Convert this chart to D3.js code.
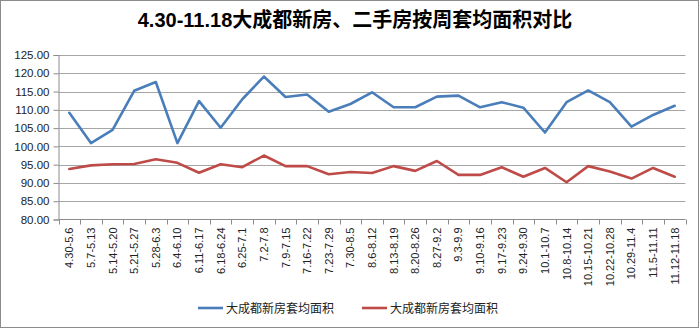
<!DOCTYPE html>
<html>
<head>
<meta charset="utf-8">
<script src="https://cdn.jsdelivr.net/npm/d3@7"></script>
<style>
  html, body { margin: 0; padding: 0; background: #fff; }
  svg { display: block; font-family: "Liberation Sans", Arial, "Noto Sans CJK SC", sans-serif; }
</style>
</head>
<body>
<svg id="chart" width="700" height="329"></svg>
<script>
// Weekly periods
const weeks = [
  "4.30-5.6", "5.7-5.13", "5.14-5.20", "5.21-5.27", "5.28-6.3", "6.4-6.10",
  "6.11-6.17", "6.18-6.24", "6.25-7.1", "7.2-7.8", "7.9-7.15", "7.16-7.22",
  "7.23-7.29", "7.30-8.5", "8.6-8.12", "8.13-8.19", "8.20-8.26", "8.27-9.2",
  "9.3-9.9", "9.10-9.16", "9.17-9.23", "9.24-9.30", "10.1-10.7", "10.8-10.14",
  "10.15-10.21", "10.22-10.28", "10.29-11.4", "11.5-11.11", "11.12-11.18"
];

// Average area per unit, new homes
const newHomes = [
  109.2, 100.9, 104.5, 115.2, 117.6, 100.9, 112.4, 105.1, 112.9, 119.1,
  113.5, 114.2, 109.5, 111.6, 114.8, 110.7, 110.7, 113.6, 113.9, 110.7,
  112.1, 110.6, 103.8, 112.1, 115.3, 112.1, 105.4, 108.6, 111.1
];

// Average area per unit, second-hand homes
const resaleHomes = [
  93.8, 94.8, 95.1, 95.2, 96.5, 95.5, 92.8, 95.1, 94.3, 97.5,
  94.6, 94.6, 92.4, 93.0, 92.7, 94.6, 93.3, 96.0, 92.2, 92.2,
  94.3, 91.7, 94.1, 90.2, 94.6, 93.1, 91.2, 94.1, 91.7
];

const yTicks = [80, 85, 90, 95, 100, 105, 110, 115, 120, 125];
const titleText = "4.30-11.18大成都新房、二手房按周套均面积对比";
const seriesNames = ["大成都新房套均面积", "大成都新房套均面积"];
const seriesColors = ["#4a7ebb", "#be4b48"];

const svg = d3.select("#chart");

// outer frame
svg.append("rect")
  .attr("x", 0.5).attr("y", 0.5)
  .attr("width", 698).attr("height", 327)
  .attr("fill", "#fff").attr("stroke", "#8c8c8c");

const plot = { left: 58.5, right: 685.5, top: 55, bottom: 219.5 };

const x = d3.scaleBand().domain(weeks).range([plot.left, plot.right]);
const y = d3.scaleLinear().domain([80, 125]).range([plot.bottom, plot.top]);

// title
svg.append("text")
  .attr("x", 355).attr("y", 27)
  .attr("text-anchor", "middle")
  .attr("font-size", 20).attr("font-weight", "bold")
  .attr("fill", "#000")
  .text(titleText);

// horizontal gridlines
svg.append("g")
  .selectAll("line")
  .data(yTicks.filter(d => d !== 80))
  .join("line")
  .attr("x1", plot.left).attr("x2", plot.right)
  .attr("y1", d => Math.round(y(d)) + 0.5).attr("y2", d => Math.round(y(d)) + 0.5)
  .attr("stroke", "#a6a6a6").attr("stroke-width", 1);

// y axis
const yAxis = svg.append("g")
  .attr("transform", `translate(${plot.left},0)`)
  .call(d3.axisLeft(y).tickValues(yTicks).tickFormat(d3.format(".2f")).tickSizeOuter(0).tickSize(5).tickPadding(4));
yAxis.select(".domain").attr("stroke", "#8c8c8c");
yAxis.selectAll(".tick line").attr("stroke", "#8c8c8c");
yAxis.selectAll(".tick text")
  .attr("font-size", 11.5).attr("fill", "#222")
  .attr("font-family", "'Liberation Sans', Arial, sans-serif");

// x axis with ticks between categories
const xAxisG = svg.append("g")
  .attr("transform", `translate(0,${plot.bottom})`);
xAxisG.append("line")
  .attr("x1", plot.left).attr("x2", plot.right)
  .attr("y1", 0).attr("y2", 0)
  .attr("stroke", "#8c8c8c");
const bounds = weeks.map(w => x(w)).concat([x(weeks[weeks.length - 1]) + x.bandwidth()]);
xAxisG.selectAll("line.tk")
  .data(bounds)
  .join("line")
  .attr("class", "tk")
  .attr("x1", d => Math.round(d) + 0.5).attr("x2", d => Math.round(d) + 0.5)
  .attr("y1", 0).attr("y2", 5)
  .attr("stroke", "#8c8c8c");
xAxisG.selectAll("text")
  .data(weeks)
  .join("text")
  .attr("transform", d => `translate(${x(d) + x.bandwidth() / 2 + 4},8) rotate(-90)`)
  .attr("text-anchor", "end")
  .attr("font-size", 11)
  .attr("fill", "#222")
  .text(d => d);

// series lines
const line = d3.line()
  .x((d, i) => x(weeks[i]) + x.bandwidth() / 2)
  .y(d => y(d));

[newHomes, resaleHomes].forEach((vals, k) => {
  svg.append("path")
    .datum(vals)
    .attr("fill", "none")
    .attr("stroke", seriesColors[k])
    .attr("stroke-width", 2.6)
    .attr("stroke-linejoin", "round")
    .attr("stroke-linecap", "round")
    .attr("d", line);
});

// legend
const legendItems = [
  { x: 198, name: seriesNames[0], color: seriesColors[0] },
  { x: 362, name: seriesNames[1], color: seriesColors[1] }
];
const lg = svg.append("g");
legendItems.forEach(it => {
  lg.append("line")
    .attr("x1", it.x).attr("x2", it.x + 25)
    .attr("y1", 308).attr("y2", 308)
    .attr("stroke", it.color).attr("stroke-width", 2.6);
  lg.append("text")
    .attr("x", it.x + 28).attr("y", 312.5)
    .attr("font-size", 12)
    .attr("fill", "#222")
    .attr("font-family", "'Noto Sans CJK SC', sans-serif")
    .text(it.name);
});
</script>
</body>
</html>
